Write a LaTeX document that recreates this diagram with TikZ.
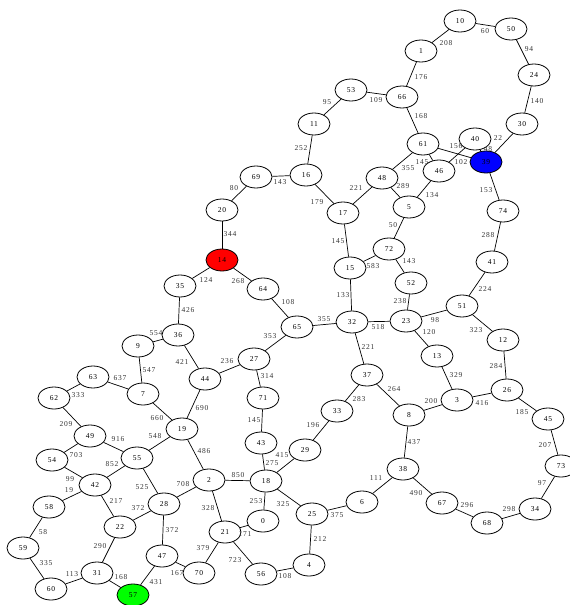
\documentclass[tikz,border=0pt]{standalone}
\usepackage{fontspec}
\setmainfont{Liberation Serif}
\usetikzlibrary{shapes.geometric}
\tikzset{
  nd/.style={draw, ellipse, line width=0.8pt, minimum width=32pt, minimum height=22pt, inner sep=0pt, font=\fontsize{7.5}{8}\selectfont\addfontfeature{LetterSpace=10}, fill=white},
  lbl/.style={inner sep=0pt, font=\fontsize{7.5}{8}\selectfont\addfontfeature{LetterSpace=10}, text=black!80},
  edge/.style={line width=0.7pt}
}
\newcommand\Ed[4]{\draw[edge] (n#1) -- (n#2); \node[lbl] (l#1x#2) at (#3) {#4};}
\begin{document}
\begin{tikzpicture}[x=1pt,y=-1pt]
\useasboundingbox (0,0) rectangle (570,605);
% nodes
\node[nd] (n10) at (460,21) {10};
\node[nd] (n50) at (511,29) {50};
\node[nd] (n1) at (421,51) {1};
\node[nd] (n24) at (534,75) {24};
\node[nd] (n66) at (402,97) {66};
\node[nd] (n53) at (351,90) {53};
\node[nd] (n30) at (522,124) {30};
\node[nd] (n11) at (314,124) {11};
\node[nd] (n61) at (423,144) {61};
\node[nd] (n40) at (475,139) {40};
\node[nd, fill=blue] (n39) at (486,162) {39};
\node[nd] (n46) at (439,171) {46};
\node[nd] (n16) at (306,175) {16};
\node[nd] (n48) at (382,178) {48};
\node[nd] (n69) at (256,177) {69};
\node[nd] (n5) at (409,207) {5};
\node[nd] (n17) at (343,213) {17};
\node[nd] (n74) at (503,211) {74};
\node[nd] (n20) at (222,210) {20};
\node[nd] (n72) at (389,249) {72};
\node[nd, fill=red] (n14) at (222,260) {14};
\node[nd] (n15) at (350,268) {15};
\node[nd] (n52) at (411,283) {52};
\node[nd] (n41) at (492,262) {41};
\node[nd] (n35) at (180,286) {35};
\node[nd] (n64) at (263,289) {64};
\node[nd] (n51) at (462,306) {51};
\node[nd] (n65) at (297,327) {65};
\node[nd] (n32) at (352,322) {32};
\node[nd] (n23) at (406,321) {23};
\node[nd] (n36) at (178,335) {36};
\node[nd] (n9) at (138,346) {9};
\node[nd] (n12) at (503,340) {12};
\node[nd] (n27) at (254,359) {27};
\node[nd] (n13) at (437,356) {13};
\node[nd] (n44) at (205,379) {44};
\node[nd] (n63) at (93,377) {63};
\node[nd] (n7) at (143,394) {7};
\node[nd] (n37) at (367,375) {37};
\node[nd] (n71) at (263,398) {71};
\node[nd] (n26) at (507,390) {26};
\node[nd] (n62) at (54,398) {62};
\node[nd] (n3) at (457,400) {3};
\node[nd] (n8) at (409,415) {8};
\node[nd] (n45) at (548,419) {45};
\node[nd] (n33) at (337,411) {33};
\node[nd] (n49) at (90,436) {49};
\node[nd] (n19) at (182,429) {19};
\node[nd] (n54) at (52,460) {54};
\node[nd] (n55) at (137,458) {55};
\node[nd] (n43) at (261,443) {43};
\node[nd] (n29) at (305,450) {29};
\node[nd] (n73) at (561,466) {73};
\node[nd] (n42) at (95,485) {42};
\node[nd] (n2) at (209,480) {2};
\node[nd] (n18) at (266,481) {18};
\node[nd] (n38) at (403,469) {38};
\node[nd] (n58) at (49,507) {58};
\node[nd] (n28) at (164,504) {28};
\node[nd] (n6) at (362,502) {6};
\node[nd] (n25) at (312,514) {25};
\node[nd] (n67) at (442,503) {67};
\node[nd] (n0) at (263,521) {0};
\node[nd] (n22) at (120,527) {22};
\node[nd] (n21) at (225,532) {21};
\node[nd] (n68) at (487,523) {68};
\node[nd] (n34) at (535,509) {34};
\node[nd] (n59) at (23,548) {59};
\node[nd] (n47) at (162,556) {47};
\node[nd] (n31) at (97,573) {31};
\node[nd] (n70) at (199,573) {70};
\node[nd] (n56) at (261,574) {56};
\node[nd] (n4) at (309,565) {4};
\node[nd] (n60) at (51,589) {60};
\node[nd, fill=green] (n57) at (133,595) {57};
% edges
\Ed{1}{10}{446,43}{208}
\Ed{10}{50}{485,31}{60}
\Ed{50}{24}{529,49}{94}
\Ed{66}{1}{421,77}{176}
\Ed{24}{30}{537,101}{140}
\Ed{11}{53}{327,102}{95}
\Ed{53}{66}{376,100}{109}
\Ed{66}{61}{421,116}{168}
\Ed{11}{16}{301,148}{252}
\Ed{30}{39}{498,138}{22}
\Ed{61}{39}{456,146}{156}
\Ed{40}{39}{488,149}{48}
\Ed{61}{48}{408,168}{355}
\Ed{61}{46}{422,162}{145}
\Ed{46}{40}{461,162}{102}
\Ed{69}{20}{234,188}{80}
\Ed{69}{16}{280,182}{143}
\Ed{48}{17}{356,188}{221}
\Ed{48}{5}{403,186}{289}
\Ed{46}{5}{432,195}{134}
\Ed{16}{17}{317,202}{179}
\Ed{39}{74}{486,190}{153}
\Ed{5}{72}{393,225}{50}
\Ed{17}{15}{338,241}{145}
\Ed{74}{41}{488,235}{288}
\Ed{20}{14}{230,234}{344}
\Ed{15}{72}{373,266}{583}
\Ed{72}{52}{409,261}{143}
\Ed{14}{35}{206,280}{124}
\Ed{14}{64}{238,281}{268}
\Ed{41}{51}{485,289}{224}
\Ed{52}{23}{400,301}{238}
\Ed{64}{65}{288,302}{108}
\Ed{35}{36}{188,310}{426}
\Ed{15}{32}{343,295}{133}
\Ed{65}{32}{324,319}{355}
\Ed{23}{51}{435,320}{98}
\Ed{32}{23}{378,327}{518}
\Ed{51}{12}{476,330}{323}
\Ed{23}{13}{429,332}{120}
\Ed{65}{27}{270,336}{353}
\Ed{9}{36}{156,333}{554}
\Ed{32}{37}{368,347}{221}
\Ed{9}{7}{149,370}{547}
\Ed{36}{44}{182,362}{421}
\Ed{27}{44}{227,361}{236}
\Ed{12}{26}{496,366}{284}
\Ed{63}{7}{120,378}{637}
\Ed{27}{71}{267,376}{314}
\Ed{13}{3}{456,375}{329}
\Ed{62}{63}{78,395}{333}
\Ed{37}{8}{394,389}{264}
\Ed{37}{33}{359,399}{283}
\Ed{44}{19}{202,408}{690}
\Ed{3}{8}{431,401}{200}
\Ed{26}{3}{482,403}{416}
\Ed{26}{45}{522,412}{185}
\Ed{7}{19}{157,418}{660}
\Ed{62}{49}{66,424}{209}
\Ed{33}{29}{313,425}{196}
\Ed{71}{43}{254,420}{145}
\Ed{55}{19}{155,436}{548}
\Ed{49}{55}{118,439}{916}
\Ed{8}{38}{414,442}{437}
\Ed{19}{2}{204,451}{486}
\Ed{45}{73}{545,445}{207}
\Ed{54}{49}{76,455}{703}
\Ed{55}{42}{112,464}{852}
\Ed{43}{18}{282,455}{415}
\Ed{29}{18}{272,463}{275}
\Ed{38}{6}{376,478}{111}
\Ed{73}{34}{542,483}{97}
\Ed{42}{54}{70,479}{99}
\Ed{58}{42}{69,490}{19}
\Ed{2}{18}{238,475}{850}
\Ed{2}{28}{183,484}{708}
\Ed{38}{67}{416,493}{490}
\Ed{42}{22}{116,501}{217}
\Ed{55}{28}{142,487}{525}
\Ed{67}{68}{467,505}{296}
\Ed{68}{34}{509,509}{298}
\Ed{22}{28}{138,508}{372}
\Ed{18}{0}{256,501}{253}
\Ed{18}{25}{283,504}{325}
\Ed{6}{25}{337,515}{375}
\Ed{2}{21}{208,508}{328}
\Ed{59}{58}{43,532}{58}
\Ed{28}{47}{172,530}{372}
\Ed{21}{0}{245,534}{171}
\Ed{25}{4}{320,539}{212}
\Ed{22}{31}{100,546}{290}
\Ed{21}{70}{203,548}{379}
\Ed{21}{56}{235,560}{723}
\Ed{47}{70}{177,573}{167}
\Ed{59}{60}{46,563}{335}
\Ed{31}{60}{72,574}{113}
\Ed{31}{57}{121,577}{168}
\Ed{47}{57}{156,582}{431}
\Ed{4}{56}{285,576}{108}
\end{tikzpicture}
\end{document}
